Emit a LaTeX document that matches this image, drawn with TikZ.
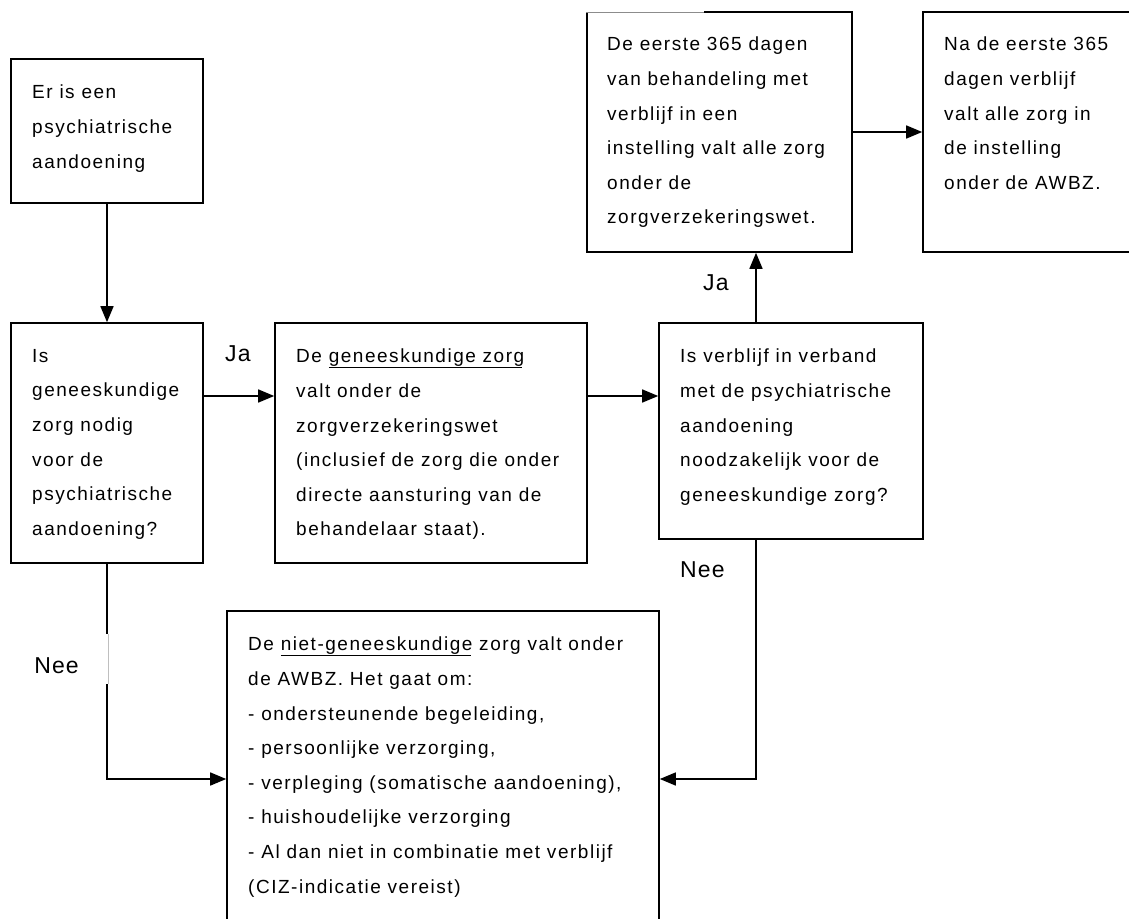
\documentclass[tikz,border=0pt]{standalone}
\usepackage{fontspec}
\usetikzlibrary{arrows.meta}
\newfontfamily\bodyfont{Liberation Sans}[LetterSpace=8]
\newfontfamily\labfont{Liberation Sans}[LetterSpace=5]
\newcommand\myul[1]{\setbox0=\hbox{#1}\rlap{\rule[-5.5pt]{\dimexpr\wd0-2pt\relax}{1.6pt}}\box0\relax}
\tikzset{
  box/.style={draw, line width=1.6pt, inner sep=0pt, rectangle},
  txt/.style={inner sep=0pt, anchor=north west, align=left,
    font=\bodyfont\fontsize{19}{34.6}\selectfont,
    execute at begin node={\rule{0pt}{14.5pt}}},
  lab/.style={inner sep=0pt, font=\labfont\fontsize{23}{27}\selectfont},
  arr/.style={-{Triangle[length=16pt,width=13pt]}, line width=1.5pt}
}
\begin{document}
\begin{tikzpicture}[x=1pt,y=-1pt]
\useasboundingbox (0,0) rectangle (1129,918);
\fill[white] (0,0) rectangle (1129,918);
\clip (0,0) rectangle (1129,918);
% boxes
\node[box, minimum width=192pt, minimum height=144pt] (b1) at (107,131) {};
\node[box, minimum width=192pt, minimum height=240pt] (b2) at (107,443) {};
\node[box, minimum width=312pt, minimum height=240pt] (b3) at (431,443) {};
\node[box, minimum width=264pt, minimum height=216pt] (b4) at (791,431) {};
\node[box, minimum width=265pt, minimum height=240pt] (b5) at (719.5,132) {};
\node[box, minimum width=227pt, minimum height=240pt] (b6) at (1036.5,132) {};
\node[box, minimum width=432pt, minimum height=329pt] (b7) at (443,775.5) {};
% faint part of the top border of b5
\draw[white, line width=1.8pt] (586,12) -- (704,12);
\draw[black!45, line width=0.9pt] (586.2,12) -- (704,12);
% texts
\node[txt] (t1) at (32,85) {Er is een\\psychiatrische\\aandoening};
\node[txt] (t2) at (32,349) {Is\\geneeskundige\\zorg nodig\\voor de\\psychiatrische\\aandoening?};
\node[txt] (t3) at (296,349) {De \myul{geneeskundige zorg}\\valt onder de\\zorgverzekeringswet\\(inclusief de zorg die onder\\directe aansturing van de\\behandelaar staat).};
\node[txt] (t4) at (680,349) {Is verblijf in verband\\met de psychiatrische\\aandoening\\noodzakelijk voor de\\geneeskundige zorg?};
\node[txt] (t5) at (607,37) {De eerste 365 dagen\\van behandeling met\\verblijf in een\\instelling valt alle zorg\\onder de\\zorgverzekeringswet.};
\node[txt] (t6) at (944,37) {Na de eerste 365\\dagen verblijf\\valt alle zorg in\\de instelling\\onder de AWBZ.};
\node[txt] (t7) at (248,637) {De \myul{niet-geneeskundige} zorg valt onder\\de AWBZ. Het gaat om:\\- ondersteunende begeleiding,\\- persoonlijke verzorging,\\- verpleging (somatische aandoening),\\- huishoudelijke verzorging\\- Al dan niet in combinatie met verblijf\\(CIZ-indicatie vereist)};
% connectors
\draw[arr] (b1.south) -- (b2.north);
\draw[arr] ([yshift=47pt]b2.east) -- ([yshift=47pt]b3.west);
\draw[arr] ([yshift=47pt]b3.east) -- ([yshift=47pt]b3.east -| b4.west);
\draw[arr] ([xshift=-35pt]b4.north) -- ([xshift=-35pt]b4.north |- b5.south);
\draw[arr] (b5.east) -- (b5.east -| b6.west);
\draw[arr] (b2.south) |- ([yshift=-3.5pt]b7.west);
\draw[arr] ([xshift=-35pt]b4.south) |- ([yshift=-3.5pt]b7.east);
% gap in the left "Nee" line
\fill[white] (104,634) rectangle (110.5,684);
\draw[black!25, line width=0.6pt] (108.5,634) -- (108.5,684);
% labels
\node[lab, anchor=base west] (ja1) at (225,361) {Ja};
\node[lab, anchor=base west] (ja2) at (703,290) {Ja};
\node[lab, anchor=base west] (nee2) at (680,577) {Nee};
\node[lab, anchor=base east] (nee1) at (79,673) {Nee};
\end{tikzpicture}
\end{document}
